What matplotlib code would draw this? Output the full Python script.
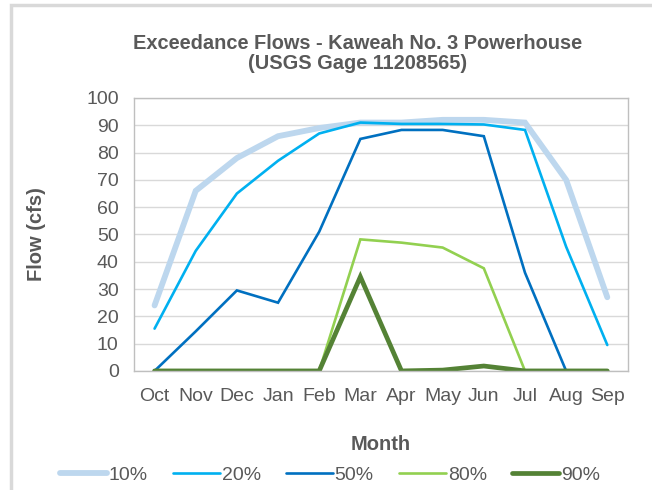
import matplotlib.pyplot as plt
from matplotlib.patches import Rectangle

plt.rcParams['font.family'] = ['Liberation Sans', 'DejaVu Sans']

# monthly exceedance flows (cfs)
months = ['Oct', 'Nov', 'Dec', 'Jan', 'Feb', 'Mar', 'Apr', 'May', 'Jun', 'Jul', 'Aug', 'Sep']
flow_10 = [24, 66, 78, 86, 89, 91, 91, 92, 92, 91, 70, 27]
flow_20 = [15.5, 44, 65, 77, 87, 91, 90.5, 90.5, 90.3, 88.3, 45.5, 9.5]
flow_50 = [0, 14.5, 29.5, 25, 51, 85, 88.3, 88.3, 86, 36, 0, 0]
flow_80 = [0, 0, 0, 0, 0, 48.2, 47, 45.2, 37.6, 0, 0, 0]
flow_90 = [0, 0, 0, 0, 0, 34.5, 0, 0.3, 1.8, 0, 0, 0]

labels = ['10%', '20%', '50%', '80%', '90%']
colors = ['#BDD7EE', '#00B0F0', '#0070C0', '#92D050', '#548235']
widths = [4.2, 1.9, 1.9, 1.9, 3.4]

txt = '#595959'
fig = plt.figure(figsize=(6.52, 4.9), dpi=100)
ax = fig.add_axes([0.2055, 0.243, 0.7575, 0.557])

x = range(len(months))
for vals, lab, c, w in zip([flow_10, flow_20, flow_50, flow_80, flow_90], labels, colors, widths):
    ax.plot(x, vals, color=c, lw=w, label=lab, solid_capstyle='round', solid_joinstyle='miter')

ax.set_xlim(-0.5, 11.5)
ax.set_ylim(0, 100)
ax.set_yticks(range(0, 101, 10))
ax.set_xticks(list(x))
ax.set_xticklabels(months)
ax.tick_params(length=0, labelsize=14, labelcolor=txt)
ax.tick_params(axis='x', pad=12)
ax.tick_params(axis='y', pad=11)
ax.grid(axis='y', color='#D9D9D9', lw=1)
ax.set_axisbelow(True)
for s in ax.spines.values():
    s.set_color('#BFBFBF')
    s.set_linewidth(1)

ax.set_ylabel('Flow (cfs)', fontsize=14.5, fontweight='bold', color=txt, labelpad=29)
ax.set_xlabel('Month', fontsize=14.5, fontweight='bold', color=txt, labelpad=22)
fig.text(0.548, 0.891, 'Exceedance Flows - Kaweah No. 3 Powerhouse\n(USGS Gage 11208565)',
         ha='center', va='center', fontsize=14.4, fontweight='bold', color=txt, linespacing=1.1)

leg = fig.legend(loc='center', bbox_to_anchor=(0.506, 0.031), ncol=5, frameon=False,
                 fontsize=14, handlelength=2.4, columnspacing=1.3, handletextpad=0.1)
for t in leg.get_texts():
    t.set_color(txt)

# outer chart frame (only left/top visible in the crop)
fig.patches.append(Rectangle((0.017, -0.1), 1.1, 1.09, transform=fig.transFigure,
                             fill=False, edgecolor='#D9D9D9', lw=2.5))

fig.savefig('out.png', dpi=100)
